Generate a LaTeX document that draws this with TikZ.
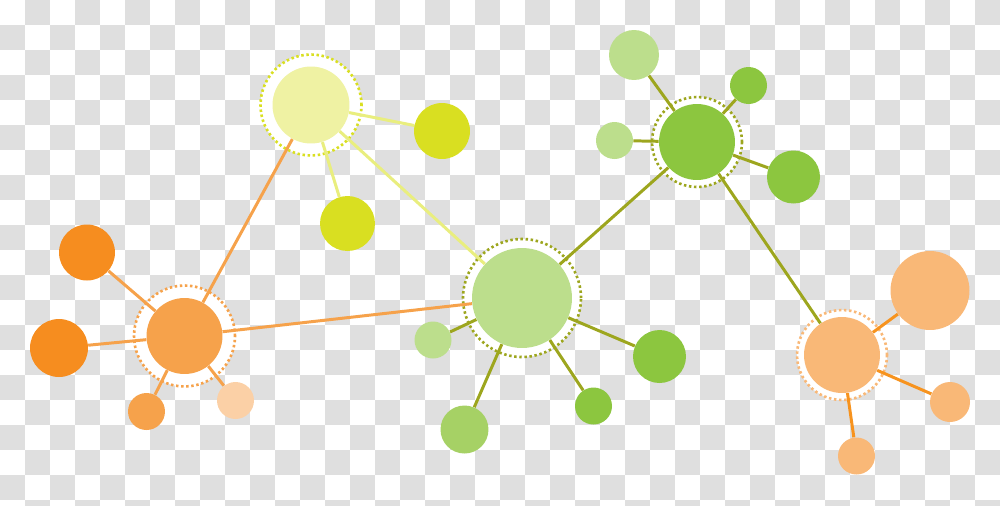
\documentclass[tikz,border=0pt]{standalone}
\definecolor{chk}{HTML}{DFDFDF}
\definecolor{yhub}{HTML}{EFF2A3}
\definecolor{yline}{HTML}{E9EE7E}
\definecolor{ysmall}{HTML}{D9DF21}
\definecolor{glight}{HTML}{BCDE8C}
\definecolor{gdark}{HTML}{8CC63F}
\definecolor{gmid}{HTML}{A6D165}
\definecolor{olive}{HTML}{9DA61E}
\definecolor{ohub}{HTML}{F6A24B}
\definecolor{odark}{HTML}{F68D1F}
\definecolor{olight}{HTML}{FBD0A6}
\definecolor{opeach}{HTML}{F9B877}
\definecolor{oline}{HTML}{F7931E}
\pgfdeclarelayer{back}
\pgfdeclarelayer{halos}
\pgfdeclarelayer{links}
\pgfsetlayers{back,halos,links,main}
\tikzset{
  ball/.style 2 args={circle, fill=#1, draw=none, inner sep=0pt, minimum size=#2*0.04cm},
  halo/.style 2 args={circle, fill=white, draw=#1, line width=1.5pt, dash pattern=on 1.4pt off 1.5pt, inner sep=0pt, minimum size=#2*0.04cm},
  link/.style={line width=1.7pt, draw=#1}
}
\begin{document}
\begin{tikzpicture}[x=0.02cm,y=-0.02cm]
\useasboundingbox (0,0) rectangle (1000,505);
\begin{pgfonlayer}{back}
\begin{scope}
\clip (0,0) rectangle (1000,505);
\fill[white] (0,0) rectangle (1000,505);
\foreach \i in {0,...,39}{
  \foreach \j in {0,...,20}{
    \pgfmathtruncatemacro\s{mod(\i+\j,2)}
    \ifnum\s=1 \fill[chk] (\i*25,\j*25) rectangle ++(25,25); \fi
  }
}
\end{scope}
\end{pgfonlayer}

% halos (white disk with dotted ring)
\begin{pgfonlayer}{halos}
\node[halo={ysmall}{50.5}] (hY) at (311,105) {};
\node[halo={olive}{59}] (hG) at (522,298) {};
\node[halo={olive}{45}] (hT) at (697,142) {};
\node[halo={opeach}{45}] (hR) at (842,355) {};
\node[halo={ohub}{50.5}] (hL) at (184.5,336) {};
\end{pgfonlayer}

% yellow cluster
\node[ball={yhub}{38.5}] (Y) at (311,105) {};
\node[ball={ysmall}{28}] (Y1) at (442,131) {};
\node[ball={ysmall}{27.5}] (Y2) at (347.5,223.5) {};

% central green cluster
\node[ball={glight}{50}] (G) at (522,298) {};
\node[ball={glight}{18.5}] (G1) at (433,340) {};
\node[ball={gmid}{24}] (G2) at (464.5,429.5) {};
\node[ball={gdark}{18.5}] (G3) at (593.5,406) {};
\node[ball={gdark}{26.5}] (G4) at (659.5,356.5) {};

% top green cluster
\node[ball={gdark}{38}] (T) at (697,142) {};
\node[ball={glight}{25}] (T1) at (634,55) {};
\node[ball={gdark}{18.5}] (T2) at (748.5,85.5) {};
\node[ball={glight}{18.5}] (T3) at (614.5,140.5) {};
\node[ball={gdark}{26.5}] (T4) at (793.5,177) {};

% right orange cluster
\node[ball={opeach}{38}] (R) at (842,355) {};
\node[ball={opeach}{39.5}] (R1) at (930,290.5) {};
\node[ball={opeach}{20}] (R2) at (950,402) {};
\node[ball={opeach}{18.5}] (R3) at (856.5,456) {};

% left orange cluster
\node[ball={ohub}{38}] (L) at (184.5,336) {};
\node[ball={odark}{28}] (L1) at (87,252.5) {};
\node[ball={odark}{29}] (L2) at (59,348) {};
\node[ball={ohub}{18.5}] (L3) at (146.5,411.5) {};
\node[ball={olight}{18.5}] (L4) at (235.5,400.5) {};

\begin{pgfonlayer}{links}
\draw[link=ohub] (L) -- (Y);
\draw[link=ohub] (L) -- (G);
\draw[link=ohub] (L) -- (L1);
\draw[link=ohub] (L) -- (L2);
\draw[link=ohub] (L) -- (L3);
\draw[link=ohub] (L) -- (L4);
\draw[link=yline] (Y) -- (Y1);
\draw[link=yline] (Y) -- (Y2);
\draw[link=yline] (Y) -- (G);
\draw[link=olive] (G) -- (G1);
\draw[link=olive] (G) -- (G2);
\draw[link=olive] (G) -- (G3);
\draw[link=olive] (G) -- (G4);
\draw[link=olive] (G) -- (T);
\draw[link=olive] (T) -- (T1);
\draw[link=olive] (T) -- (T2);
\draw[link=olive] (T) -- (T3);
\draw[link=olive] (T) -- (T4);
\draw[link=olive] (T) -- (R);
\draw[link=oline] (R) -- (R1);
\draw[link=oline] (R) -- (R2);
\draw[link=oline] (R) -- (R3);
\end{pgfonlayer}
\end{tikzpicture}
\end{document}
